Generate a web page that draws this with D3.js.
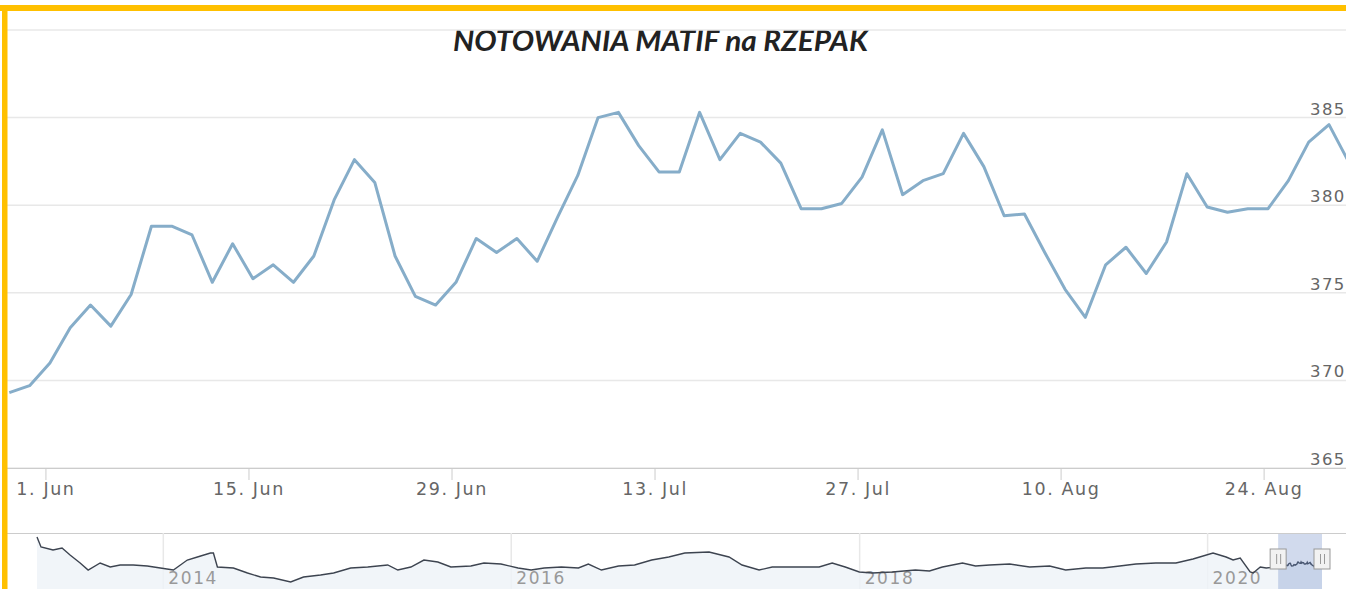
<!DOCTYPE html>
<html>
<head>
<meta charset="utf-8">
<script src="https://cdn.jsdelivr.net/npm/d3@7"></script>
<style>
  body { margin: 0; background: #fff; }
  svg { display: block; }
</style>
</head>
<body>
<svg id="chart"></svg>
<script>
// <========================== data ==========================>
// trading days (Mon-Fri) 28 May 2020 - 28 Aug 2020
const dates = d3.timeDay
  .range(new Date(2020, 4, 28), new Date(2020, 7, 29))
  .filter((d) => d.getDay() !== 0 && d.getDay() !== 6);

// MATIF rapeseed close, EUR/t
const values = [
  369.3, 369.7, 371.0, 373.0, 374.3, 373.1, 374.9, 378.8, 378.8, 378.3,
  375.6, 377.8, 375.8, 376.6, 375.6, 377.1, 380.3, 382.6, 381.3, 377.1,
  374.8, 374.3, 375.6, 378.1, 377.3, 378.1, 376.8, 379.3, 381.7, 385.0,
  385.3, 383.4, 381.9, 381.9, 385.3, 382.6, 384.1, 383.6, 382.4, 379.8,
  379.8, 380.1, 381.6, 384.3, 380.6, 381.4, 381.8, 384.1, 382.2, 379.4,
  379.5, 377.3, 375.2, 373.6, 376.6, 377.6, 376.1, 377.9, 381.8, 379.9,
  379.6, 379.8, 379.8, 381.4, 383.6, 384.6, 382.4,
];

const yTicks = [365, 370, 375, 380, 385, 390];
const xTickDates = ["2020-06-01", "2020-06-15", "2020-06-29", "2020-07-13", "2020-07-27", "2020-08-10", "2020-08-24"];

// navigator history before the zoomed range (decimal year, EUR/t)
const navYears = [
  2013.274, 2013.297, 2013.366, 2013.418, 2013.464, 2013.522, 2013.568, 2013.637, 2013.695, 2013.752,
  2013.827, 2013.908, 2013.983, 2014.058, 2014.138, 2014.196, 2014.271, 2014.288, 2014.311, 2014.403,
  2014.484, 2014.559, 2014.634, 2014.732, 2014.806, 2014.904, 2014.979, 2015.077, 2015.175, 2015.29,
  2015.348, 2015.423, 2015.498, 2015.578, 2015.653, 2015.768, 2015.843, 2015.941, 2016.039, 2016.114,
  2016.189, 2016.287, 2016.385, 2016.442, 2016.517, 2016.615, 2016.707, 2016.805, 2016.903, 2016.995,
  2017.134, 2017.249, 2017.324, 2017.422, 2017.497, 2017.571, 2017.669, 2017.767, 2017.842, 2017.917,
  2017.998, 2018.073, 2018.188, 2018.32, 2018.401, 2018.476, 2018.591, 2018.666, 2018.747, 2018.862,
  2018.977, 2019.092, 2019.184, 2019.3, 2019.397, 2019.495, 2019.588, 2019.703, 2019.818, 2019.916,
  2020.031, 2020.106, 2020.146, 2020.187, 2020.244, 2020.261, 2020.302, 2020.336, 2020.388,
];
const navValues = [
  453.7, 426.4, 418.2, 423.7, 404.6, 382.7, 363.6, 382.7, 371.8, 377.3,
  377.3, 374.5, 369.1, 363.6, 390.9, 399.1, 410.0, 410.0, 371.8, 369.1,
  355.4, 344.5, 341.8, 330.9, 344.5, 350.0, 355.4, 369.1, 371.8, 377.3,
  363.6, 371.8, 390.9, 385.5, 371.8, 374.5, 382.7, 380.0, 369.1, 363.6,
  369.1, 371.8, 369.1, 380.0, 363.6, 374.5, 377.3, 390.9, 399.1, 410.0,
  412.8, 399.1, 377.3, 363.6, 371.8, 371.8, 371.8, 371.8, 382.7, 371.8,
  358.2, 355.4, 358.2, 363.6, 360.9, 371.8, 382.7, 374.5, 377.3, 380.0,
  371.8, 374.5, 363.6, 369.1, 369.1, 374.5, 380.0, 382.7, 382.7, 393.7,
  410.0, 399.1, 390.9, 396.4, 358.2, 355.4, 371.8, 369.1, 371.8,
];

const title = "NOTOWANIA MATIF na RZEPAK";

// <========================== layout ==========================>
const width = 1346;
const height = 589;
const plot = { left: 7, right: 1346, top: 30, bottom: 468 };
const nav = { top: 533, lineTop: 537, lineBottom: 582, left: 37, right: 1322 };

const lineColor = "#86adc9";
const gridColor = "#e8e8e8";
const labelColor = "#666";
const borderColor = "#ffc000";

const svg = d3.select("#chart").attr("width", width).attr("height", height);

// ordinal x: one slot per trading day (weekends removed)
const x = d3.scaleLinear().domain([0, dates.length - 1]).range([9.3, 1349.3]);
const y = d3.scaleLinear().domain([365, 390]).range([plot.bottom, plot.top]);

const fmtKey = d3.timeFormat("%Y-%m-%d");
const fmtTick = d3.timeFormat("%-d. %b");
const dateIndex = new Map(dates.map((d, i) => [fmtKey(d), i]));
// midnight tick sits ~0.78 slot after the previous close
const tickPos = xTickDates.map((s) => dateIndex.get(s) - 0.22);

svg.append("defs").append("clipPath").attr("id", "clip")
  .append("rect")
  .attr("x", plot.left).attr("y", 0)
  .attr("width", plot.right - plot.left).attr("height", plot.bottom);

// title
svg.append("text")
  .attr("x", 453).attr("y", 51)
  .attr("textLength", 415)
  .attr("lengthAdjust", "spacingAndGlyphs")
  .style("font-family", "Lato, 'Open Sans', sans-serif")
  .style("font-weight", "bold").style("font-style", "italic")
  .style("font-size", "28px").style("fill", "#222")
  .text(title);

// horizontal grid
svg.append("g").selectAll("line").data(yTicks).join("line")
  .attr("x1", plot.left).attr("x2", plot.right)
  .attr("y1", (d) => y(d)).attr("y2", (d) => y(d))
  .attr("stroke", gridColor).attr("stroke-width", 1.5);

// right y labels
svg.append("g").selectAll("text").data(yTicks.filter((d) => d < 390)).join("text")
  .attr("x", 1310).attr("y", (d) => y(d) - 3)
  .style("font-family", "'DejaVu Sans', sans-serif")
  .style("font-size", "16.5px").style("letter-spacing", "1.4px")
  .style("fill", labelColor)
  .text((d) => d);

// x axis
const xAxisGroup = svg.append("g").attr("transform", `translate(0,${plot.bottom})`);
xAxisGroup.call(
  d3.axisBottom(x)
    .tickValues(tickPos)
    .tickSize(12)
    .tickPadding(2)
    .tickFormat((d, i) => fmtTick(d3.timeParse("%Y-%m-%d")(xTickDates[i])))
);
xAxisGroup.select(".domain").attr("d", `M${plot.left},0.5H${plot.right}`).attr("stroke", "#ccc");
xAxisGroup.selectAll(".tick line").attr("stroke", "#ccc");
xAxisGroup.selectAll(".tick text")
  .attr("y", 0)
  .attr("dy", "1.55em")
  .style("font-family", "'DejaVu Sans', sans-serif")
  .style("font-size", "17.5px").style("letter-spacing", "1.6px")
  .style("fill", labelColor);

// main series
const line = d3.line().x((d, i) => x(i)).y((d) => y(d));
svg.append("path")
  .datum(values)
  .attr("clip-path", "url(#clip)")
  .attr("fill", "none")
  .attr("stroke", lineColor)
  .attr("stroke-width", 3)
  .attr("stroke-linejoin", "round")
  .attr("d", line);

// <========================== navigator ==========================>
const yearToDate = (t) => {
  const yr = Math.floor(t);
  const a = new Date(yr, 0, 1), b = new Date(yr + 1, 0, 1);
  return new Date(+a + (t - yr) * (b - a));
};
const navData = navYears.map((t, i) => ({ date: yearToDate(t), value: navValues[i] }))
  .concat(dates.map((d, i) => ({ date: d, value: values[i] })));

const navX = d3.scaleTime()
  .domain([navData[0].date, dates[dates.length - 1]])
  .range([nav.left, nav.right]);
const navY = d3.scaleLinear()
  .domain(d3.extent(navData, (d) => d.value))
  .range([nav.lineBottom, nav.lineTop]);

svg.append("line")
  .attr("x1", plot.left).attr("x2", width)
  .attr("y1", nav.top + 0.5).attr("y2", nav.top + 0.5)
  .attr("stroke", "#ccc");

const navYears2 = navX.ticks(d3.timeYear.every(2));
svg.append("g").selectAll("line").data(navYears2).join("line")
  .attr("x1", (d) => navX(d)).attr("x2", (d) => navX(d))
  .attr("y1", nav.top).attr("y2", height)
  .attr("stroke", gridColor).attr("stroke-width", 1.5);

svg.append("path")
  .datum(navData)
  .attr("fill", "#eef2f8")
  .attr("fill-opacity", 0.8)
  .attr("d", d3.area().x((d) => navX(d.date)).y0(height).y1((d) => navY(d.value)));

svg.append("g").selectAll("text").data(navYears2).join("text")
  .attr("x", (d) => navX(d) + 5).attr("y", 584)
  .style("font-family", "'DejaVu Sans', sans-serif")
  .style("font-size", "17px").style("letter-spacing", "1.6px")
  .style("fill", "#999")
  .text(d3.timeFormat("%Y"));

svg.append("path")
  .datum(navData)
  .attr("fill", "none")
  .attr("stroke", "#3d4450")
  .attr("stroke-width", 1.4)
  .attr("d", d3.line().x((d) => navX(d.date)).y((d) => navY(d.value)));

// selected range mask + handles
const m0 = navX(dates[0]);
const m1 = navX(dates[dates.length - 1]);
svg.append("rect")
  .attr("x", m0).attr("y", nav.top + 1)
  .attr("width", m1 - m0).attr("height", height - nav.top)
  .attr("fill", "rgba(102,133,194,0.3)");

const handles = svg.append("g").selectAll("g").data([m0, m1]).join("g")
  .attr("transform", (d) => `translate(${d},549)`);
handles.append("rect")
  .attr("x", -8).attr("y", 0).attr("width", 16).attr("height", 20)
  .attr("fill", "#f2f2f2").attr("stroke", "#999");
handles.selectAll("line").data([-2, 2]).join("line")
  .attr("x1", (d) => d + 0.5).attr("x2", (d) => d + 0.5)
  .attr("y1", 5).attr("y2", 15)
  .attr("stroke", "#999");

// yellow frame
svg.append("rect").attr("x", 0).attr("y", 5).attr("width", width).attr("height", 6).attr("fill", borderColor);
svg.append("rect").attr("x", 2).attr("y", 5).attr("width", 5.5).attr("height", height - 5).attr("fill", borderColor);
</script>
</body>
</html>
